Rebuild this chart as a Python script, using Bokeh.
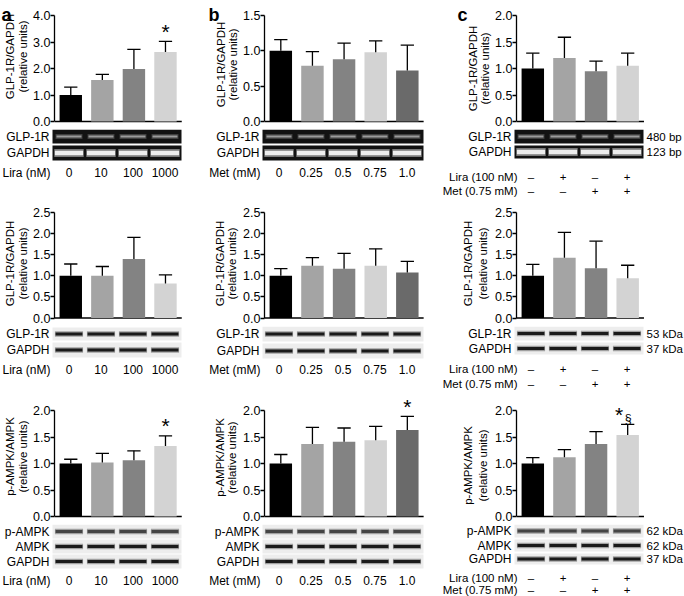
from bokeh.plotting import figure
from bokeh.models import Range1d, LinearAxis, FixedTicker, NumeralTickFormatter, Label
from bokeh.layouts import column, row
from bokeh.core.properties import value
from bokeh.embed import file_html
from bokeh.resources import INLINE

# ---------------- data ----------------
lira_doses = ["0", "10", "100", "1000"]
met_doses = ["0", "0.25", "0.5", "0.75", "1.0"]
combo_lira = ["\u2013", "+", "\u2013", "+"]
combo_met = ["\u2013", "\u2013", "+", "+"]

# row 1: GLP-1R mRNA (RT-PCR)
a1_mean = [1.00, 1.57, 1.98, 2.62]
a1_sem = [0.30, 0.21, 0.74, 0.40]
b1_mean = [1.00, 0.79, 0.88, 0.98, 0.72]
b1_sem = [0.16, 0.20, 0.23, 0.16, 0.36]
c1_mean = [1.00, 1.20, 0.95, 1.05]
c1_sem = [0.29, 0.39, 0.19, 0.24]
# row 2: GLP-1R protein
a2_mean = [1.00, 1.00, 1.40, 0.82]
a2_sem = [0.28, 0.22, 0.51, 0.20]
b2_mean = [1.00, 1.24, 1.17, 1.24, 1.08]
b2_sem = [0.17, 0.19, 0.36, 0.40, 0.26]
c2_mean = [1.00, 1.43, 1.18, 0.94]
c2_sem = [0.27, 0.60, 0.64, 0.31]
# row 3: p-AMPK / AMPK
a3_mean = [1.00, 1.02, 1.06, 1.33]
a3_sem = [0.08, 0.17, 0.18, 0.19]
b3_mean = [1.00, 1.37, 1.41, 1.44, 1.63]
b3_sem = [0.17, 0.31, 0.26, 0.26, 0.26]
c3_mean = [1.00, 1.12, 1.37, 1.54]
c3_sem = [0.11, 0.14, 0.23, 0.20]

y_max = {"r1a": 4.0, "r1b": 1.5, "r1c": 2.0, "r2": 2.5, "r3": 2.0}
y_step = {"r1a": 1.0, "r1b": 0.5, "r1c": 0.5, "r2": 0.5, "r3": 0.5}
ylabel_r12 = ["GLP-1R/GAPDH", "(relative units)"]
ylabel_r3 = ["p-AMPK/AMPK", "(relative units)"]
blot_r1 = ["GLP-1R", "GAPDH"]
blot_r2 = ["GLP-1R", "GAPDH"]
blot_r3 = ["p-AMPK", "AMPK", "GAPDH"]
size_r1 = ["480 bp", "123 bp"]
size_r2 = ["53 kDa", "37 kDa"]
size_r3 = ["62 kDa", "62 kDa", "37 kDa"]
lira_title = "Lira (nM)"
met_title = "Met (mM)"
combo_titles = ["Lira (100 nM)", "Met (0.75 mM)"]

# ---------------- style / layout ----------------
FONT = "Liberation Sans"
S = 1.0
BAR_COLORS = ["#000000", "#a4a4a4", "#838383", "#d3d3d3", "#6a6a6a"]
COL_W = [200, 235, 249]
COL_L = [52, 62, 79]
ROW_H = [197, 198, 201]
ROW_ZERO = [121, 120.5, 121]
CHART_H = 129          # height of the bar-chart strip
AXIS_BORDER = 22       # px reserved for the y axis
TOP_TICK = 15
C0, D = 16.5, 32.0


def base_fig(w, h, xr, yr, border_left=0):
    p = figure(width=w, height=h, x_range=xr, y_range=yr,
               x_axis_type=None, y_axis_type=None, toolbar_location=None,
               output_backend="svg", min_border_left=border_left,
               min_border_right=0, min_border_top=0, min_border_bottom=0)
    p.outline_line_color = None
    p.background_fill_color = "white"
    p.border_fill_color = "white"
    return p


def add_label(p, x, y, text, align="right", size="12px", xr="default",
              yr="default", angle=0, bold=False, baseline="middle"):
    p.add_layout(Label(x=x, y=y, x_range_name=xr, y_range_name=yr, text=text,
                       text_align=align, text_baseline=baseline, text_font=FONT,
                       text_font_size=size, angle=angle, angle_units="deg",
                       text_font_style="bold" if bold else "normal",
                       text_color="black"))


def make_panel(ci, ri, mean, sem, ymax, ystep, ylab, ylab_pos, names, rows_y,
               blot_kind, cat_rows, stars=(), letter=None, letter_x=0, sizes=None,
               cat_size="12px"):
    n = len(mean)
    W = round(COL_W[ci] * S)
    H = round(ROW_H[ri] * S)
    Lpx = round(COL_L[ci] * S)
    Hc = round(CHART_H * S)
    Tw = Lpx - AXIS_BORDER
    zero = ROW_ZERO[ri]
    k = (zero - TOP_TICK) / ymax
    xs = list(range(n))

    # ---- left text strip (panel letter + y label)
    t = base_fig(Tw, Hc, Range1d(-Lpx / S, (Tw - Lpx) / S), Range1d(Hc / S, 0))
    x1, x2, yc = ylab_pos
    add_label(t, x1, yc, ylab[0], align="center", size="11.5px", angle=90)
    add_label(t, x2, yc, ylab[1], align="center", size="11.5px", angle=90)
    if letter:
        add_label(t, letter_x, 14, letter, align="left", size="18px", bold=True,
                  baseline="alphabetic")

    # ---- bar chart with its y axis
    fw = (W - Lpx) / S
    m = base_fig(W - Tw, Hc, Range1d(-C0 / D, (fw - C0) / D),
                 Range1d((zero - Hc / S) / k, zero / k), border_left=AXIS_BORDER)
    nt = int(round(ymax / ystep))
    ticks = [i * ystep for i in range(nt + 1)]
    ax = LinearAxis(ticker=FixedTicker(ticks=ticks),
                    formatter=NumeralTickFormatter(format="0.0"),
                    bounds=(0, ymax), axis_line_width=1.3, axis_line_color="black",
                    major_tick_out=4, major_tick_in=0, minor_tick_out=0,
                    minor_tick_in=0, major_tick_line_width=1.3,
                    major_tick_line_color="black", major_label_standoff=0,
                    major_label_text_font=FONT, major_label_text_font_size="12.5px",
                    major_label_text_color="black")
    m.add_layout(ax, "left")
    end_x = (n - 1) + 16.5 / D
    m.segment(x0=[-C0 / D], y0=[0], x1=[end_x], y1=[0], line_color="black",
              line_width=1.3)
    m.vbar(x=xs, top=mean, width=0.71, bottom=0, fill_color=BAR_COLORS[:n],
           line_color=None)
    tops = [a + b for a, b in zip(mean, sem)]
    m.segment(x0=xs, y0=mean, x1=xs, y1=tops, line_color="black", line_width=1.3)
    m.segment(x0=[x - 0.21 for x in xs], y0=tops, x1=[x + 0.21 for x in xs],
              y1=tops, line_color="black", line_width=1.3)
    for idx, txt in stars:
        if txt == "*":
            m.text(x=[idx], y=[tops[idx] + 10.0 / k], text=[txt], text_align="center",
                   text_baseline="alphabetic", text_font=value(FONT),
                   text_font_size="21px", text_color="black")
        else:
            m.text(x=[idx - 0.27], y=[tops[idx] + 10.0 / k], text=["*"],
                   text_align="center", text_baseline="alphabetic",
                   text_font=value(FONT), text_font_size="21px", text_color="black")
            m.text(x=[idx + 0.02], y=[tops[idx] + 5.0 / k], text=[txt[1:]],
                   text_align="center", text_baseline="alphabetic",
                   text_font=value(FONT), text_font_size="12.5px",
                   text_color="black")

    # ---- blots and lane labels (full panel width)
    b = base_fig(W, H - Hc,
                 Range1d((-Lpx / S - C0) / D, ((W - Lpx) / S - C0) / D),
                 Range1d(H / S, Hc / S))
    b.extra_x_ranges = {"px": Range1d(-Lpx / S, (W - Lpx) / S)}
    blot_w = C0 + (n - 1) * D + 16.5
    for bi, (name, (y0, y1)) in enumerate(zip(names, rows_y)):
        ym = (y0 + y1) / 2
        if blot_kind == "gel":
            b.quad(left=[0], right=[blot_w], top=[y0], bottom=[y1],
                   x_range_name="px", fill_color="#121212", line_color=None)
            if bi == 0:
                b.rect(x=xs, y=[ym] * n, width=0.84, height=5, fill_color="#3e3e3e",
                       line_color=None)
                b.rect(x=xs, y=[ym] * n, width=0.78, height=2.2,
                       fill_color="#9c9c9c", line_color=None)
            else:
                b.rect(x=xs, y=[ym] * n, width=0.92, height=8, fill_color="#7a7a7a",
                       line_color=None)
                b.rect(x=xs, y=[ym] * n, width=0.88, height=4.5,
                       fill_color="#ededed", line_color=None)
        else:
            b.quad(left=[0], right=[blot_w], top=[y0], bottom=[y1],
                   x_range_name="px", fill_color="#ededed", line_color=None)
            band = "#444444" if name == "p-AMPK" else "#1a1a1a"
            b.rect(x=xs, y=[ym] * n, width=0.88, height=5.5, fill_color="#a0a0a0",
                   line_color=None)
            b.rect(x=xs, y=[ym] * n, width=0.84, height=3.0, fill_color=band,
                   line_color=None)
        add_label(b, -3, ym, name, xr="px")
        if sizes is not None:
            add_label(b, blot_w + 3, ym, sizes[bi], align="left", size="11.5px",
                      xr="px")

    for title, items, yy, tx in cat_rows:
        add_label(b, tx, yy, title, xr="px", size=cat_size)
        for i, it in enumerate(items):
            add_label(b, i, yy, it, align="center", size=cat_size)

    return column(row(t, m), b)


pa1 = make_panel(0, 0, a1_mean, a1_sem, y_max["r1a"], y_step["r1a"], ylabel_r12,
                 (-43, -30, 56), blot_r1, [(129, 143), (145, 160)], "gel",
                 [(lira_title, lira_doses, 172, -2)], stars=[(3, "*")],
                 letter="a", letter_x=-51)
pb1 = make_panel(1, 0, b1_mean, b1_sem, y_max["r1b"], y_step["r1b"], ylabel_r12,
                 (-42, -30, 64), blot_r1, [(129, 143), (145, 160)], "gel",
                 [(met_title, met_doses, 172, -2)], letter="b", letter_x=-54)
pc1 = make_panel(2, 0, c1_mean, c1_sem, y_max["r1c"], y_step["r1c"], ylabel_r12,
                 (-42, -30, 68), blot_r1, [(129, 143), (145, 158)], "gel",
                 [(combo_titles[0], combo_lira, 176.5, 3),
                  (combo_titles[1], combo_met, 190.5, 3)],
                 letter="c", letter_x=-57, sizes=size_r1, cat_size="11.5px")

pa2 = make_panel(0, 1, a2_mean, a2_sem, y_max["r2"], y_step["r2"], ylabel_r12,
                 (-43, -30, 66), blot_r2, [(130, 143), (145, 160)], "wb",
                 [(lira_title, lira_doses, 172, -2)])
pb2 = make_panel(1, 1, b2_mean, b2_sem, y_max["r2"], y_step["r2"], ylabel_r12,
                 (-43, -31, 66), blot_r2, [(129, 144), (146, 161)], "wb",
                 [(met_title, met_doses, 172, -2)])
pc2 = make_panel(2, 1, c2_mean, c2_sem, y_max["r2"], y_step["r2"], ylabel_r12,
                 (-46.5, -32, 66), blot_r2, [(129, 143), (145, 157)], "wb",
                 [(combo_titles[0], combo_lira, 171, 3),
                  (combo_titles[1], combo_met, 186, 3)], sizes=size_r2,
                 cat_size="11.5px")

pa3 = make_panel(0, 2, a3_mean, a3_sem, y_max["r3"], y_step["r3"], ylabel_r3,
                 (-43, -30, 61), blot_r3, [(129, 143), (144, 158), (159, 173)], "wb",
                 [(lira_title, lira_doses, 185, -2)], stars=[(3, "*")])
pb3 = make_panel(1, 2, b3_mean, b3_sem, y_max["r3"], y_step["r3"], ylabel_r3,
                 (-43, -31, 62), blot_r3, [(129, 143), (144, 158), (159, 173)], "wb",
                 [(met_title, met_doses, 185, -2)], stars=[(4, "*")])
pc3 = make_panel(2, 2, c3_mean, c3_sem, y_max["r3"], y_step["r3"], ylabel_r3,
                 (-47, -32, 70), blot_r3, [(129, 142), (144, 156), (158, 169)], "wb",
                 [(combo_titles[0], combo_lira, 182, 3),
                  (combo_titles[1], combo_met, 194, 3)],
                 stars=[(3, "*\u00a7")], sizes=size_r3, cat_size="11.5px")

layout = column(row(pa1, pb1, pc1), row(pa2, pb2, pc2), row(pa3, pb3, pc3))
open("out.html", "w").write(file_html(layout, INLINE))
